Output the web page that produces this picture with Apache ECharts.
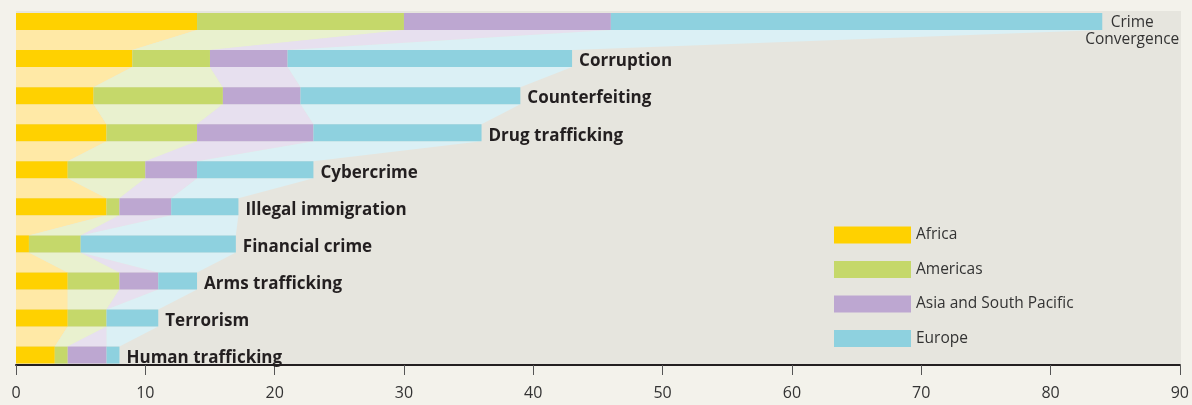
<!DOCTYPE html>
<html>
<head>
<meta charset="utf-8">
<script src="https://cdn.jsdelivr.net/npm/echarts@6/dist/echarts.min.js"></script>
<style>
html,body{margin:0;padding:0;background:#F3F2EB;}
#c{width:1192px;height:405px;}
</style>
</head>
<body>
<div id="c"></div>
<script>
const categories = ['Crime Convergence','Corruption','Counterfeiting','Drug trafficking','Cybercrime','Illegal immigration','Financial crime','Arms trafficking','Terrorism','Human trafficking'];
const regions = ['Africa','Americas','Asia and South Pacific','Europe'];
const africa   = [14, 9, 6, 7, 4, 7, 1, 4, 4, 3];
const americas = [16, 6, 10, 7, 6, 1, 4, 4, 3, 1];
const asia     = [16, 6, 6, 9, 4, 4, 0, 3, 0, 3];
const europe   = [38, 22, 17, 13, 9, 5.2, 12, 3, 4, 1];
const xTicks = [0,10,20,30,40,50,60,70,80,90];

const colors = ['#FFD100','#C5D86A','#BDA7D1','#8ED1DF'];
const lightColors = ['#FFE9A6','#E9F1CF','#E7E0EF','#DBF0F5'];
const seriesVals = [africa, americas, asia, europe];
const BAR_H = 17;

// cumulative boundaries per category
const cum = categories.map((c,i) => {
  let acc = 0; const out = [0];
  seriesVals.forEach(v => { acc += v[i]; out.push(acc); });
  return out;
});

const connData = [];
for (let g = 0; g < categories.length - 1; g++) {
  for (let r = 0; r < 4; r++) connData.push([g, r]);
}

const chart = echarts.init(document.getElementById('c'), null, {renderer:'canvas'});

const FONT = 'Open Sans';

const barSeries = regions.map((name, k) => {
  const s = {
    name: name,
    type: 'bar',
    stack: 'total',
    barWidth: BAR_H,
    z: 3,
    itemStyle: {color: colors[k]},
    data: seriesVals[k].slice(),
    animation: false
  };
  if (k === 3) {
    s.label = {
      show: true,
      position: 'right',
      distance: 7,
      offset: [0, 3],
      fontFamily: FONT,
      fontWeight: 700,
      fontSize: 17,
      color: '#231F20',
      formatter: p => categories[p.dataIndex]
    };
    s.data[0] = {
      value: europe[0],
      label: {
        show: true,
        position: 'right',
        distance: 0,
        align: 'center',
        offset: [30, 10],
        fontFamily: FONT,
        fontWeight: 400,
        fontSize: 15.5,
        lineHeight: 17,
        color: '#333333',
        formatter: 'Crime\nConvergence'
      }
    };
  }
  return s;
});

const connSeries = {
  type: 'custom',
  z: 1,
  silent: true,
  animation: false,
  renderItem: function (params, api) {
    const g = api.value(0), r = api.value(1);
    const a0 = api.coord([cum[g][r], g]);
    const a1 = api.coord([cum[g][r+1], g]);
    const b0 = api.coord([cum[g+1][r], g+1]);
    const b1 = api.coord([cum[g+1][r+1], g+1]);
    const yA = a0[1] + BAR_H/2, yB = b0[1] - BAR_H/2;
    return {
      type: 'polygon',
      shape: {points: [[a0[0], yA], [a1[0], yA], [b1[0], yB], [b0[0], yB]]},
      style: {fill: lightColors[r], stroke: null}
    };
  },
  encode: {x: 0},
  data: connData
};

chart.setOption({
  backgroundColor: '#F3F2EB',
  animation: false,
  grid: {left: 16, right: 12, top: 2.97, bottom: 31.4, containLabel: false},
  graphic: [{
    type: 'rect', z: -10, silent: true,
    shape: {x: 16, y: 11, width: 1165, height: 354},
    style: {fill: '#E6E5DE'}
  }],
  legend: {
    orient: 'vertical',
    left: 829, top: 221.5,
    itemWidth: 77, itemHeight: 17, itemGap: 17.5,
    icon: 'rect',
    textStyle: {fontFamily: FONT, fontSize: 15.5, color: '#333333'},
    data: regions
  },
  xAxis: {
    type: 'value',
    min: 0, max: 90, interval: 10,
    offset: -8.6,
    axisLine: {show: true, lineStyle: {color: '#231F20', width: 2}},
    axisTick: {show: true, length: 10, lineStyle: {color: '#555555', width: 1}},
    axisLabel: {fontFamily: FONT, fontSize: 16, color: '#333333', margin: 20,
      formatter: v => xTicks.includes(v) ? String(v) : ''},
    splitLine: {show: false}
  },
  yAxis: {
    type: 'category',
    inverse: true,
    data: categories,
    show: false
  },
  series: [connSeries].concat(barSeries)
});
</script>
</body>
</html>
